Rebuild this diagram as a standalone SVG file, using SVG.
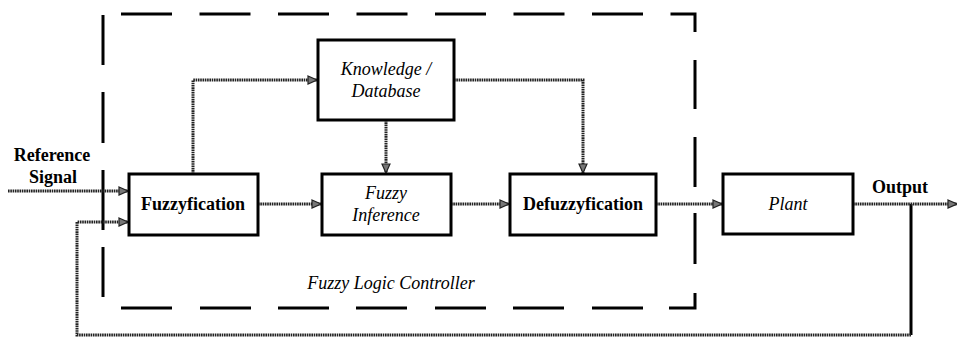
<svg xmlns="http://www.w3.org/2000/svg" width="957" height="338" viewBox="0 0 957 338">
  <defs>
    <marker id="arrow" markerUnits="userSpaceOnUse" markerWidth="11" markerHeight="11" refX="10" refY="5.5" orient="auto">
      <path d="M1,1.5 L10,5.5 L1,9.5 Z" fill="#777" stroke="#222" stroke-width="1.2"/>
    </marker>
  </defs>
  <style>
    .box { fill: #fff; stroke: #000; stroke-width: 3; }
    .frame { fill: none; stroke: #000; stroke-width: 3; }
    .wire { fill: none; stroke: #222; stroke-width: 3; stroke-dasharray: 1.6 0.7; }
    .solid { fill: none; stroke: #000; stroke-width: 3; }
    .b { font-family: 'Liberation Serif', 'Times New Roman', serif; font-size: 18px; font-weight: bold; text-anchor: middle; fill: #000; }
    .i { font-family: 'Liberation Serif', 'Times New Roman', serif; font-size: 18px; font-style: italic; text-anchor: middle; fill: #000; }
  </style>
  <rect width="957" height="338" fill="#fff"/>

  <!-- controller boundary -->
  <g id="controller-frame">
    <path class="frame" d="M121,14 H695 V32" stroke-dasharray="51 27.5"/>
    <path class="frame" d="M103,15 V65 M103,92 V143 M103,170 V230 M103,247 V297"/>
    <path class="frame" d="M695,60 V109 M695,137 V187 M695,213 V264 M695,293 V308 H669"/>
    <path class="frame" d="M121,308 H172 M200,308 H251 M278,308 H329 M356,308 H407 M435,308 H486 M513,308 H564 M592,308 H643"/>
    <text class="i" x="391" y="289">Fuzzy Logic Controller</text>
  </g>

  <!-- connectors -->
  <g id="connectors">
    <path class="wire" d="M8,191 H128" marker-end="url(#arrow)"/>
    <path class="solid" d="M911,204 V335"/>
    <path class="wire" d="M911,335 H77 V222 H128" marker-end="url(#arrow)"/>
    <path class="wire" d="M258,204 H321" marker-end="url(#arrow)"/>
    <path class="wire" d="M451,204 H509" marker-end="url(#arrow)"/>
    <path class="wire" d="M656,204 H722" marker-end="url(#arrow)"/>
    <path class="wire" d="M853,204 H957" marker-end="url(#arrow)"/>
    <path class="wire" d="M193,174 V80 H317" marker-end="url(#arrow)"/>
    <path class="wire" d="M454,80 H583 V173" marker-end="url(#arrow)"/>
    <path class="wire" d="M386,120 V173" marker-end="url(#arrow)"/>
  </g>

  <g id="reference-label">
    <text class="b" x="52" y="161">Reference</text>
    <text class="b" x="53" y="183">Signal</text>
  </g>

  <g id="fuzzyfication">
    <rect class="box" x="129" y="174" width="129" height="61"/>
    <text class="b" x="193" y="210">Fuzzyfication</text>
  </g>

  <g id="knowledge-database">
    <rect class="box" x="318" y="40" width="136" height="80"/>
    <text class="i" x="386" y="75">Knowledge /</text>
    <text class="i" x="386" y="97">Database</text>
  </g>

  <g id="fuzzy-inference">
    <rect class="box" x="322" y="174" width="129" height="61"/>
    <text class="i" x="386" y="199">Fuzzy</text>
    <text class="i" x="386" y="221">Inference</text>
  </g>

  <g id="defuzzyfication">
    <rect class="box" x="510" y="174" width="146" height="61"/>
    <text class="b" x="583" y="210">Defuzzyfication</text>
  </g>

  <g id="plant">
    <rect class="box" x="723" y="174" width="130" height="60"/>
    <text class="i" x="788" y="210">Plant</text>
  </g>

  <g id="output-label">
    <text class="b" x="900" y="193">Output</text>
  </g>
</svg>
